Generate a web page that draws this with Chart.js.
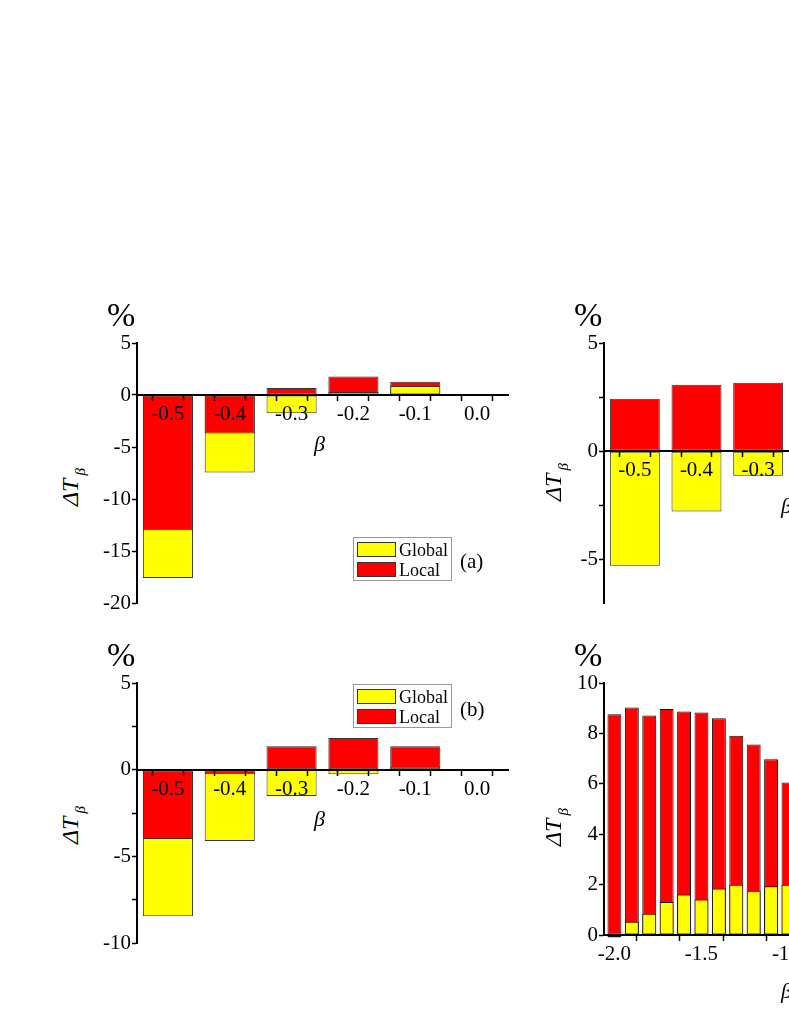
<!DOCTYPE html>
<html>
<head>
<meta charset="utf-8">
<script src="https://cdn.jsdelivr.net/npm/chart.js@4.4.1/dist/chart.umd.min.js"></script>
<style>
  html, body { margin: 0; padding: 0; background: #fff; }
  body { width: 789px; height: 1021px; position: relative; overflow: hidden; font-family: "Liberation Serif", "Times New Roman", serif; }
  canvas { position: absolute; }
  .t { position: absolute; white-space: nowrap; color: #000; line-height: 1; }
  .pct { font-size: 34px; }
  .yt { font-size: 24px; font-style: italic; transform: translate(-50%, -50%) rotate(-90deg); }
  .yt span { font-size: 15px; position: relative; top: 7px; margin-left: 3px; }
  .xt { font-size: 22px; font-style: italic; }
  .plab { font-size: 21px; }
  .leg { position: absolute; border: 1px solid #999; background: #fff; width: 97px; height: 42px; }
  .sw { position: absolute; left: 3px; width: 37px; height: 13px; border: 1px solid #333; }
  .lt { position: absolute; left: 45px; font-size: 18px; line-height: 1; }
</style>
</head>
<body>

<canvas id="chartA" width="436" height="290" style="left:92px;top:328px"></canvas>
<canvas id="chartB" width="436" height="290" style="left:92px;top:668px"></canvas>
<canvas id="chartC" width="435" height="290" style="left:559px;top:328px"></canvas>
<canvas id="chartD" width="434" height="307" style="left:559px;top:668px"></canvas>

<!-- axis titles and labels -->
<div class="t pct" style="left:107px;top:298px">%</div>
<div class="t pct" style="left:574px;top:298px">%</div>
<div class="t pct" style="left:107px;top:638px">%</div>
<div class="t pct" style="left:574px;top:638px">%</div>

<div class="t yt" style="left:70px;top:487px">ΔT<span>β</span></div>
<div class="t yt" style="left:70px;top:825px">ΔT<span>β</span></div>
<div class="t yt" style="left:553px;top:482px">ΔT<span>β</span></div>
<div class="t yt" style="left:553px;top:827px">ΔT<span>β</span></div>

<div class="t xt" style="left:314px;top:433px">β</div>
<div class="t xt" style="left:314px;top:808px">β</div>
<div class="t xt" style="left:781px;top:495px">β</div>
<div class="t xt" style="left:781px;top:980px">β</div>

<div class="leg" style="left:353px;top:537px">
  <div class="sw" style="top:4px;background:#ffff00"></div><div class="lt" style="top:3px">Global</div>
  <div class="sw" style="top:24px;background:#ff0000"></div><div class="lt" style="top:23px">Local</div>
</div>
<div class="t plab" style="left:460px;top:551px">(a)</div>

<div class="leg" style="left:353px;top:684px">
  <div class="sw" style="top:4px;background:#ffff00"></div><div class="lt" style="top:3px">Global</div>
  <div class="sw" style="top:24px;background:#ff0000"></div><div class="lt" style="top:23px">Local</div>
</div>
<div class="t plab" style="left:460px;top:699px">(b)</div>

<script>
// values (percent)
const betaAB = [-0.5, -0.4, -0.3, -0.2, -0.1, 0.0];
const globalA = [-17.6, -7.45, -1.76, 0.29, 0.87, 0];
const localA = [-13.0, -3.7, 0.68, 1.77, 1.28, 0];

const globalB = [-8.45, -4.12, -1.52, -0.27, 0.17, 0];
const localB = [-4.0, -0.27, 1.35, 1.83, 1.35, 0];

const betaC = [-0.5, -0.4, -0.3];
const globalC = [-5.28, -2.78, -1.13];
const localC = [2.43, 3.07, 3.17];

const betaD = [-2.0, -1.9, -1.8, -1.7, -1.6, -1.5, -1.4, -1.3, -1.2, -1.1, -1.0];
const globalD = [-0.1, 0.53, 0.84, 1.31, 1.61, 1.41, 1.85, 1.99, 1.76, 1.93, 1.99];
const localD = [8.76, 9.03, 8.71, 8.97, 8.87, 8.83, 8.6, 7.91, 7.56, 6.97, 6.05];

// tick positions (major labelled, minor blank)
const xTicksAB = [-0.5, -0.45, -0.4, -0.35, -0.3, -0.25, -0.2, -0.15, -0.1, -0.05, 0.0, 0.05];
const xLabelsAB = ['-0.5', '-0.4', '-0.3', '-0.2', '-0.1', '0.0'];
const xTicksD = [-2.0, -1.75, -1.5, -1.25, -1.0, -0.75, -0.5, -0.25, 0.0];
const xLabelsD = ['-2.0', '-1.5', '-1.0', '-0.5', '0.0'];
const yTicksA = [-20, -17.5, -15, -12.5, -10, -7.5, -5, -2.5, 0, 2.5, 5];
const yTicksB = [-10, -7.5, -5, -2.5, 0, 2.5, 5];
const yTicksC = [-5, -2.5, 0, 2.5, 5];
const yTicksD = [0, 1, 2, 3, 4, 5, 6, 7, 8, 9, 10];
const yLabelStepABC = 5;
const yLabelStepD = 2;

const YELLOW = '#ffff00';
const RED = '#ff0000';
const FONT = { family: 'Liberation Serif', size: 21 };

function makePanel(id, p) {
  // the bar with the smaller magnitude sits in front of the other one
  const front = [], back = [], frontCol = [], backCol = [];
  p.x.forEach((x, i) => {
    const g = p.global[i], l = p.local[i];
    const gFront = Math.abs(g) <= Math.abs(l);
    front.push({ x: x, y: gFront ? g : l });
    frontCol.push(gFront ? YELLOW : RED);
    back.push({ x: x, y: gFront ? l : g });
    backCol.push(gFront ? RED : YELLOW);
  });

  new Chart(document.getElementById(id), {
    type: 'bar',
    data: {
      datasets: [
        { label: 'front', data: front, backgroundColor: frontCol, order: 0 },
        { label: 'back', data: back, backgroundColor: backCol, order: 1 },
      ],
    },
    options: {
      responsive: false,
      animation: false,
      events: [],
      layout: { padding: { top: 15, bottom: p.padBottom, left: 0, right: 20 } },
      datasets: {
        bar: {
          grouped: false,
          categoryPercentage: 1,
          // chart.js takes the bar slot from the closest tick spacing, so the
          // minor ticks at half steps make this ratio > 1 for panels a-c
          barPercentage: p.barPct,
          borderWidth: 1,
          borderColor: p.border,
          borderSkipped: false,
          clip: false,
        },
      },
      plugins: { legend: { display: false }, tooltip: { enabled: false } },
      scales: {
        x: {
          type: 'linear',
          min: p.xMin,
          max: p.xMax,
          offset: false,
          position: { y: 0 },
          afterBuildTicks: (axis) => { axis.ticks = p.xTicks.map((v) => ({ value: v })); },
          ticks: {
            z: 1,
            autoSkip: false,
            maxRotation: 0,
            padding: 2,
            color: '#000',
            font: FONT,
            callback: (v) => {
              const s = v.toFixed(1);
              return p.xLabels.includes(s) && Math.abs(v - Number(s)) < 1e-6 ? s : '';
            },
          },
          grid: { z: 1, drawOnChartArea: false, tickLength: 5, tickColor: '#000', tickWidth: 1.5 },
          border: { z: 1, color: '#000', width: 2 },
        },
        y: {
          min: p.yMin,
          max: p.yMax,
          afterBuildTicks: (axis) => { axis.ticks = p.yTicks.map((v) => ({ value: v })); },
          afterFit: (axis) => { axis.width = 45; },
          ticks: {
            padding: 1,
            color: '#000',
            font: FONT,
            callback: (v) => (v % p.yStep === 0 ? String(v) : ''),
          },
          grid: { drawOnChartArea: false, tickLength: 5, tickColor: '#000', tickWidth: 1.5 },
          border: { color: '#000', width: 2 },
        },
      },
    },
  });
}

makePanel('chartA', {
  x: betaAB, global: globalA, local: localA, xMin: -0.55, xMax: 0.05,
  xTicks: xTicksAB, xLabels: xLabelsAB, yMin: -20, yMax: 5, yTicks: yTicksA, yStep: yLabelStepABC,
  barPct: 1.62, border: '#333', padBottom: 15,
});
makePanel('chartB', {
  x: betaAB, global: globalB, local: localB, xMin: -0.55, xMax: 0.05,
  xTicks: xTicksAB, xLabels: xLabelsAB, yMin: -10, yMax: 5, yTicks: yTicksB, yStep: yLabelStepABC,
  barPct: 1.62, border: '#333', padBottom: 15,
});
makePanel('chartC', {
  x: betaC, global: globalC, local: localC, xMin: -0.55, xMax: 0.05,
  xTicks: xTicksAB, xLabels: xLabelsAB, yMin: -7, yMax: 5, yTicks: yTicksC, yStep: yLabelStepABC,
  barPct: 1.62, border: '#333', padBottom: 15,
});
makePanel('chartD', {
  x: betaD, global: globalD, local: localD, xMin: -2.06, xMax: 0.06,
  xTicks: xTicksD, xLabels: xLabelsD, yMin: 0, yMax: 10, yTicks: yTicksD, yStep: yLabelStepD,
  barPct: 0.8, border: '#111', padBottom: 40,
});
</script>
</body>
</html>
